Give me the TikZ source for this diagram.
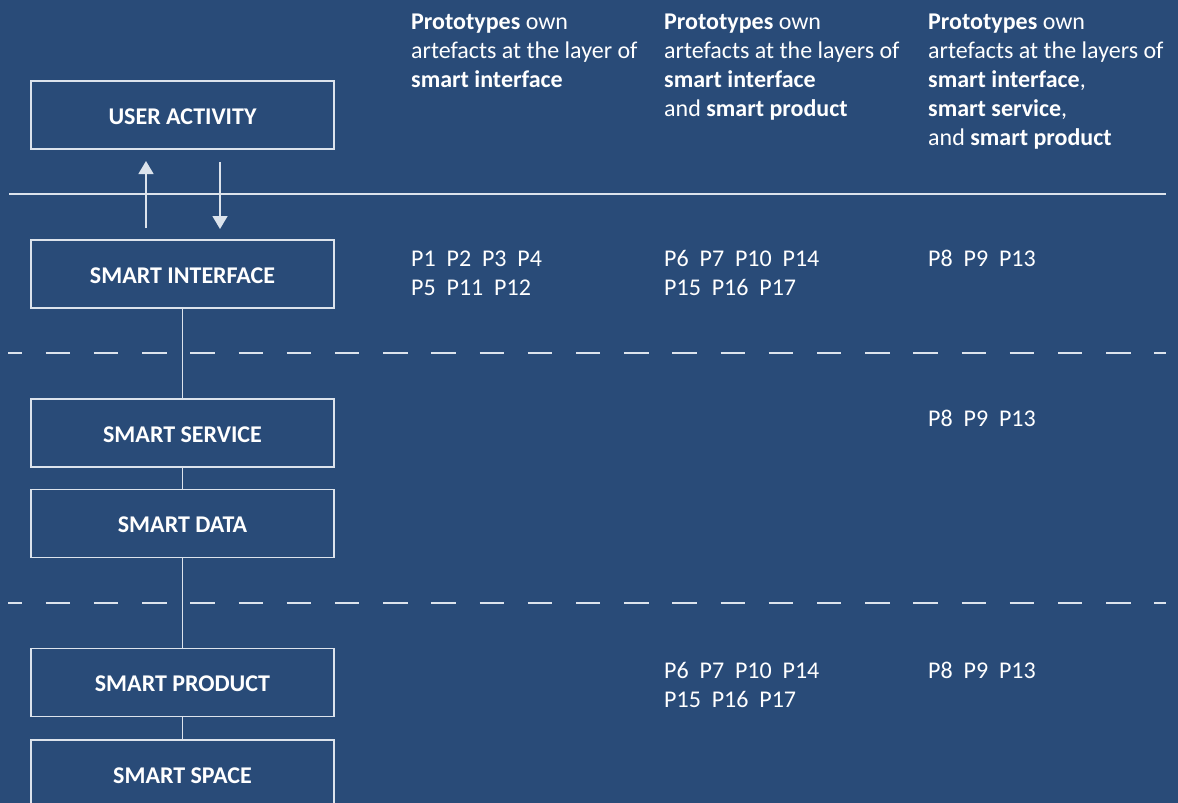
\documentclass[tikz,border=0pt]{standalone}
\usepackage{fontspec}
\setmainfont{Carlito}
\usetikzlibrary{arrows.meta}
\definecolor{bg}{HTML}{294B78}
\definecolor{ln}{HTML}{DCE3EC}
\begin{document}
\begin{tikzpicture}[x=1pt,y=-1pt,
 layer/.style={draw=ln,line width=1.5pt,minimum width=303pt,minimum height=68pt,text=white,font=\fontsize{24}{28}\selectfont\bfseries,inner sep=0pt,text height=18.5pt,text depth=0pt},
 txt/.style={text=white,font=\fontsize{24}{29}\selectfont,align=left,anchor=base west,inner sep=0pt},
 conn/.style={draw=ln,line width=1.5pt},
 sep/.style={draw=ln,line width=1.8pt},
 dsep/.style={draw=ln,line width=2pt,dash pattern=on 24.5pt off 23.7pt,dash phase=10.5pt},
 arr/.style={draw=ln,line width=1.5pt,-{Triangle[width=15pt,length=13pt]}}]
\fill[bg] (0,0) rectangle (1178,803);
\useasboundingbox (0,0) rectangle (1178,803);
% separators
\coordinate (s1a) at (9,194); \coordinate (s1b) at (1166,194);
\coordinate (s2a) at (8,353); \coordinate (s2b) at (1166,353);
\coordinate (s3a) at (8,603); \coordinate (s3b) at (1166,603);
\draw[sep] (s1a) -- (s1b);
\draw[dsep] (s2a) -- (s2b);
\draw[dsep] (s3a) -- (s3b);
% layer boxes
\node[layer,fill=bg] (ua) at (182.5,115) {USER ACTIVITY};
\node[layer,fill=bg] (si) at (182.5,274) {SMART INTERFACE};
\node[layer,fill=bg] (ss) at (182.5,433) {SMART SERVICE};
\node[layer,fill=bg] (sd) at (182.5,523.5) {SMART DATA};
\node[layer,fill=bg] (sp) at (182.5,682.5) {SMART PRODUCT};
\node[layer,fill=bg] (sx) at (182.5,774) {SMART SPACE};
% connectors
\draw[conn] (si.south) -- (ss.north);
\draw[conn] (ss.south) -- (sd.north);
\draw[conn] (sd.south) -- (sp.north);
\draw[conn] (sp.south) -- (sx.north);
\coordinate (upS) at (146,228); \coordinate (upE) at (146,161);
\coordinate (dnS) at (220,162); \coordinate (dnE) at (220,229);
\draw[arr] (upS) -- (upE);
\draw[arr] (dnS) -- (dnE);
% headers (base anchor = baseline of last line)
\node[txt] (h1) at (411,87) {\textbf{Prototypes} own\\artefacts at the layer of\\\textbf{smart interface}};
\node[txt] (h2) at (664,116) {\textbf{Prototypes} own\\artefacts at the layers of\\\textbf{smart interface}\\and \textbf{smart product}};
\node[txt] (h3) at (928,145) {\textbf{Prototypes} own\\artefacts at the layers of\\\textbf{smart interface},\\\textbf{smart service},\\and \textbf{smart product}};
% prototype lists
\node[txt] (p1) at (411,295) {P1~~P2~~P3~~P4\\P5~~P11~~P12};
\node[txt] (p2) at (664,295) {P6~~P7~~P10~~P14\\P15~~P16~~P17};
\node[txt] (p3) at (928,266) {P8~~P9~~P13};
\node[txt] (p4) at (928,426) {P8~~P9~~P13};
\node[txt] (p5) at (664,707) {P6~~P7~~P10~~P14\\P15~~P16~~P17};
\node[txt] (p6) at (928,678) {P8~~P9~~P13};
\end{tikzpicture}
\end{document}
